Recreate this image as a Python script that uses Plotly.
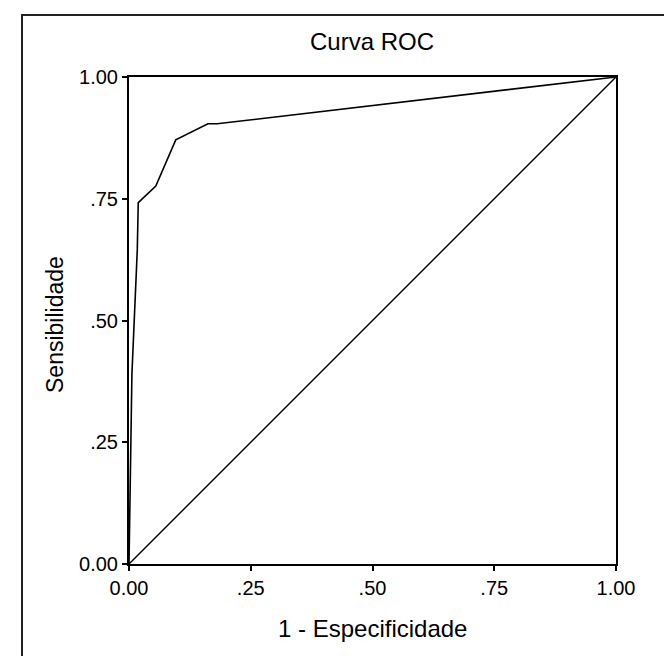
import plotly.graph_objects as go

# ROC curve data (1 - Especificidade vs Sensibilidade)
fpr = [0.0, 0.006, 0.017, 0.019, 0.055, 0.096, 0.162, 0.181, 1.0]
tpr = [0.0, 0.39, 0.645, 0.742, 0.776, 0.871, 0.904, 0.904, 1.0]

# Reference diagonal
diag_x = [0.0, 1.0]
diag_y = [0.0, 1.0]

tick_vals = [0.0, 0.25, 0.5, 0.75, 1.0]
tick_text = ["0.00", ".25", ".50", ".75", "1.00"]

FONT = "Liberation Sans, Arial, sans-serif"

fig = go.Figure()
fig.add_trace(go.Scatter(x=fpr, y=tpr, mode="lines",
                         line=dict(color="black", width=1.6),
                         cliponaxis=False, showlegend=False, hoverinfo="skip"))
fig.add_trace(go.Scatter(x=diag_x, y=diag_y, mode="lines",
                         line=dict(color="black", width=1.4),
                         cliponaxis=False, showlegend=False, hoverinfo="skip"))

W, H = 672, 656
L, R, T, B = 121, 64, 69, 100
pw = W - L - R
ph = H - T - B

def px_x(px):
    return (px - L) / pw

def px_y(py):
    return (H - B - py) / ph

axis_common = dict(range=[0, 1], tickvals=tick_vals, ticktext=tick_text,
                   showgrid=False, zeroline=False, showline=True,
                   linecolor="black", linewidth=2, mirror=True,
                   ticks="outside", ticklen=5, tickwidth=1.5, tickcolor="black",
                   tickfont=dict(family=FONT, size=20, color="black"))

fig.update_layout(
    width=W, height=H,
    margin=dict(l=L, r=R, t=T, b=B),
    paper_bgcolor="white", plot_bgcolor="white",
    xaxis=dict(**axis_common),
    yaxis=dict(**axis_common),
    showlegend=False,
    annotations=[
        dict(text="Curva ROC", xref="paper", yref="paper",
             x=px_x(364), y=px_y(33), xanchor="center", yanchor="middle",
             showarrow=False, font=dict(family=FONT, size=24, color="black")),
        dict(text="1 - Especificidade", xref="paper", yref="paper",
             x=px_x(364), y=px_y(620), xanchor="center", yanchor="middle",
             showarrow=False, font=dict(family=FONT, size=24, color="black")),
        dict(text="Sensibilidade", xref="paper", yref="paper",
             x=px_x(47), y=px_y(317), xanchor="center", yanchor="middle",
             textangle=-90,
             showarrow=False, font=dict(family=FONT, size=23, color="black")),
    ],
    shapes=[
        dict(type="rect", xref="paper", yref="paper",
             x0=px_x(14), x1=px_x(670), y0=px_y(670), y1=px_y(7),
             line=dict(color="#222222", width=2), fillcolor="rgba(0,0,0,0)",
             layer="below"),
    ],
)

fig.write_html("out.html")
